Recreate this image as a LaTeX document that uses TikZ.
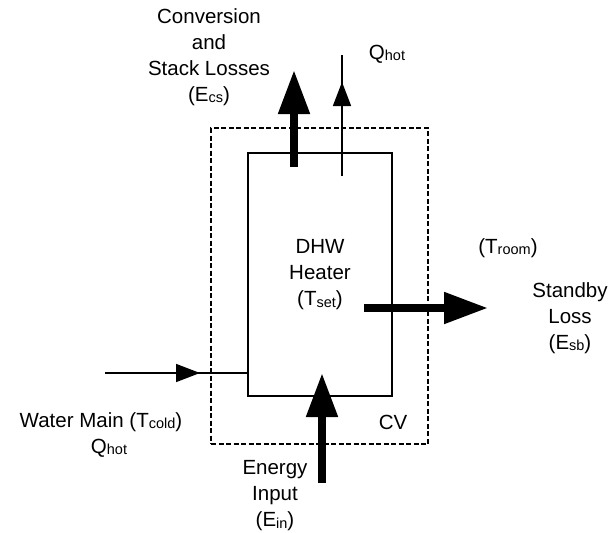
\documentclass[tikz,border=0pt]{standalone}
\usepackage{fontspec}
\setmainfont{Liberation Sans}
\usetikzlibrary{arrows.meta}
\newcommand\sbs[1]{\raisebox{-1.2pt}{\fontsize{14.5}{14.5}\selectfont #1}}
\tikzset{
  lbl/.style={align=center, inner sep=0pt, font=\fontsize{20.5}{26}\selectfont},
  box/.style={draw, line width=1.5pt, inner sep=0pt},
  cvbox/.style={draw, line width=1.4pt, dash pattern=on 5pt off 2.5pt, inner sep=0pt},
  bigarrow/.style={line width=8pt, -{Triangle[width=30pt,length=44pt]}},
  thinline/.style={line width=1.6pt},
  thinarrow/.style={line width=1.6pt, -{Triangle[width=18pt,length=24pt]}},
}
\begin{document}
\begin{tikzpicture}[x=1pt,y=-1pt]
\useasboundingbox (0,0) rectangle (611,533);
% control volume and heater
\node[cvbox, minimum width=217pt, minimum height=316pt] (cv) at (319.5,286) {};
\node[box, minimum width=144pt, minimum height=243pt] (heater) at (320,274.5) {};
% coordinates
\coordinate (ecsS) at (294,167);
\coordinate (ecsT) at (294,70);
\coordinate (qS) at (342,176);
\coordinate (qT) at (342,55);
\coordinate (qA) at (342,82);
\coordinate (wS) at (105,373);
\coordinate (wA) at (200,373);
\coordinate (wE) at (heater.west |- wS);
\coordinate (sbS) at (364,308);
\coordinate (sbT) at (488,308);
\coordinate (einS) at (322,483);
\coordinate (einT) at (322,373);
% connectors
\draw[bigarrow] (ecsS) -- (ecsT);
\draw[thinline] (qS) -- (qT);
\draw[thinarrow] (qS) -- (qA);
\draw[thinline] (wS) -- (wE);
\draw[thinarrow] (wS) -- (wA);
\draw[bigarrow] (sbS) -- (sbT);
\draw[bigarrow] (einS) -- (einT);
% labels
\node[lbl] (lecs) at (209,57) {Conversion\\and\\Stack Losses\\(E\sbs{cs})};
\node[lbl] (lqhot) at (387,54) {Q\sbs{hot}};
\node[lbl] (lheater) at (320,275) {DHW\\Heater\\(T\sbs{set})};
\node[lbl] (lroom) at (508,248) {(T\sbs{room})};
\node[lbl] (lsb) at (570,318) {Standby\\Loss\\(E\sbs{sb})};
\node[lbl] (lwm) at (101,422) {Water Main (T\sbs{cold})};
\node[lbl] (lqh2) at (109,448) {Q\sbs{hot}};
\node[lbl] (lcv) at (393,422) {CV};
\node[lbl] (lein) at (275,496) {Energy\\Input\\(E\sbs{in})};
\end{tikzpicture}
\end{document}
